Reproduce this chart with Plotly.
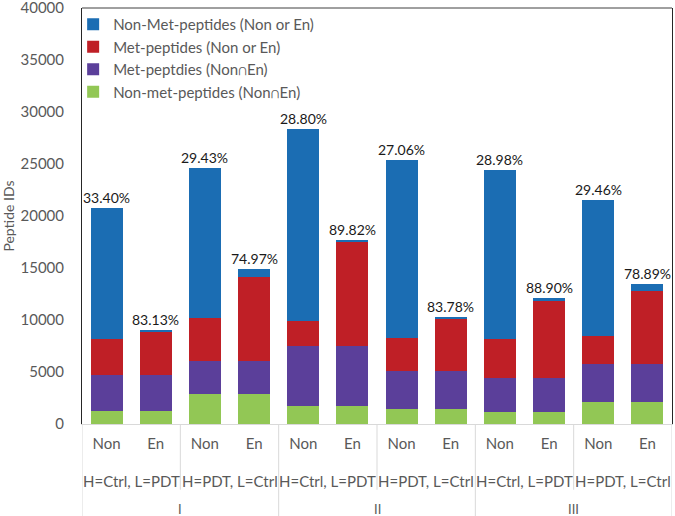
import plotly.graph_objects as go

# x-axis levels
sub_labels = ["Non", "En"] * 6
cond_labels = ["H=Ctrl, L=PDT", "H=PDT, L=Ctrl"] * 3
group_labels = ["I", "II", "III"]

# stacked series, bottom to top
non_met_both = [1250, 1250, 2920, 2920, 1700, 1700, 1410, 1410, 1120, 1120, 2140, 2140]
met_both = [3460, 3460, 3110, 3110, 5830, 5830, 3690, 3690, 3330, 3330, 3660, 3660]
met_either = [3460, 4110, 4130, 8070, 2370, 10070, 3200, 5000, 3720, 7380, 2690, 6990]
non_met_either = [12570, 250, 14430, 800, 18470, 100, 17050, 220, 16220, 250, 13020, 640]

pct_labels = ["33.40%", "83.13%", "29.43%", "74.97%", "28.80%", "89.82%",
              "27.06%", "83.78%", "28.98%", "88.90%", "29.46%", "78.89%"]

series = [
    ("Non-met-peptides (Non\u2229En)", non_met_both, "#92c755"),
    ("Met-peptdies (Non\u2229En)", met_both, "#5b3f9a"),
    ("Met-peptides (Non or En)", met_either, "#bf1f26"),
    ("Non-Met-peptides (Non or En)", non_met_either, "#1b6db3"),
]

FONT = "Lato, 'Open Sans', sans-serif"
GRAY = "#595959"

x = list(range(len(sub_labels)))
fig = go.Figure()
for name, vals, color in series:
    fig.add_trace(go.Bar(x=x, y=vals, name=name, marker_color=color,
                         marker_line_width=0))

totals = [sum(v) for v in zip(non_met_both, met_both, met_either, non_met_either)]
for xi, tot, lab in zip(x, totals, pct_labels):
    fig.add_annotation(x=xi, y=tot, text=lab, showarrow=False, yanchor="bottom",
                       font=dict(size=14, color="#1a1a1a", family=FONT))

# second and third level category labels
n_cond = len(cond_labels)
per_cond = len(sub_labels) // n_cond
for i, lab in enumerate(cond_labels):
    fig.add_annotation(x=i * per_cond + (per_cond - 1) / 2, y=-0.163, yref="paper",
                       text=lab, showarrow=False,
                       font=dict(size=15, color=GRAY, family=FONT))
per_group = len(sub_labels) // len(group_labels)
for i, lab in enumerate(group_labels):
    fig.add_annotation(x=i * per_group + (per_group - 1) / 2, y=-0.228, yref="paper",
                       text=lab, showarrow=False,
                       font=dict(size=13, color=GRAY, family=FONT))

# divider lines between categories
for k in range(0, len(sub_labels) + 1, per_cond):
    full = k % per_group == 0
    fig.add_shape(type="line", xref="x", yref="paper", x0=k - 0.5, x1=k - 0.5,
                  y0=0, y1=-0.24 if full else -0.158,
                  line=dict(color="#d9d9d9", width=1))

# top border of the plot area
fig.add_shape(type="line", xref="paper", yref="paper", x0=0, x1=1, y0=1, y1=1,
              line=dict(color="#404040", width=1))

fig.update_layout(
    width=675, height=516,
    margin=dict(l=82, r=3, t=8, b=92, autoexpand=False),
    barmode="stack", bargap=0.35,
    plot_bgcolor="white", paper_bgcolor="white",
    font=dict(family=FONT, color=GRAY, size=14),
    legend=dict(x=-0.015, y=1.0, xanchor="left", yanchor="top",
                traceorder="reversed", bgcolor="rgba(0,0,0,0)",
                font=dict(size=15, color=GRAY), itemwidth=30, tracegroupgap=0),
    xaxis=dict(tickvals=x, ticktext=sub_labels, range=[-0.5, len(x) - 0.5],
               showline=True, linecolor="#d9d9d9", ticks="", showgrid=False,
               automargin=False,
               tickfont=dict(size=15, color=GRAY), ticklabelstandoff=6),
    yaxis=dict(range=[0, 40020], tickvals=list(range(0, 40001, 5000)),
               tickformat="d", showgrid=False, zeroline=False, automargin=False,
               ticklabeloverflow="allow",
               showline=True, mirror=True, linecolor="#262626", ticks="",
               tickfont=dict(size=15, color=GRAY), ticklabelstandoff=14,
               title=dict(text="Peptide IDs", font=dict(size=14, color=GRAY),
                          standoff=6)),
)

# drop the default page margin so the figure fills the window exactly
fig.write_html("out.html", config={"displayModeBar": False},
               post_script="document.body.style.margin = '0';")
